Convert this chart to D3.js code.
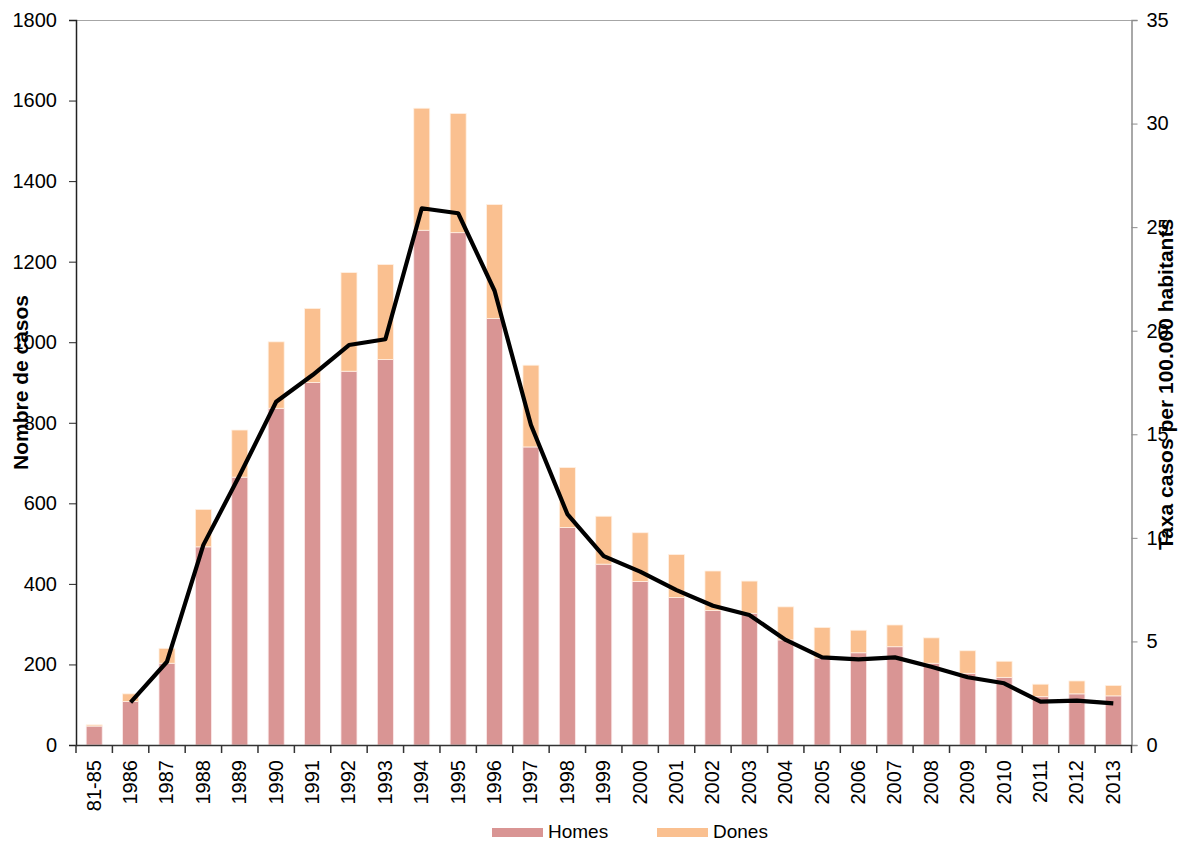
<!DOCTYPE html>
<html>
<head>
<meta charset="utf-8">
<script src="https://cdn.jsdelivr.net/npm/d3@7"></script>
<style>
  body { margin: 0; background: #fff; }
  text { font-family: "Liberation Sans", Arial, sans-serif; fill: #000; }
</style>
</head>
<body>
<div id="chart"></div>
<script>
// Data
const years = ["81-85", "1986", "1987", "1988", "1989", "1990", "1991", "1992", "1993", "1994",
               "1995", "1996", "1997", "1998", "1999", "2000", "2001", "2002", "2003", "2004",
               "2005", "2006", "2007", "2008", "2009", "2010", "2011", "2012", "2013"];
const homes = [47, 108, 203, 492, 665, 836, 900, 928, 957, 1278,
               1272, 1059, 740, 540, 449, 406, 366, 334, 327, 261,
               216, 229, 244, 203, 178, 168, 120, 127, 122];
const dones = [3, 19, 37, 93, 117, 165, 184, 245, 236, 303,
               296, 283, 203, 149, 119, 121, 107, 98, 80, 82,
               76, 56, 54, 63, 56, 40, 31, 32, 26];
const taxa = [null, 2.06, 4.02, 9.66, 13.03, 16.57, 17.86, 19.31, 19.59, 25.91,
              25.67, 21.93, 15.45, 11.15, 9.12, 8.37, 7.48, 6.72, 6.28, 5.07,
              4.23, 4.13, 4.23, 3.78, 3.27, 2.98, 2.09, 2.14, 2.01];
const leftTicks = [0, 200, 400, 600, 800, 1000, 1200, 1400, 1600, 1800];
const rightTicks = [0, 5, 10, 15, 20, 25, 30, 35];

const W = 1184, H = 843;
const margin = {top: 20, right: 52.5, bottom: 98, left: 76};
const width = W - margin.left - margin.right,
      height = H - margin.top - margin.bottom;

const svg = d3.select("#chart").append("svg")
    .attr("width", W)
    .attr("height", H);

const g = svg.append("g")
    .attr("transform", "translate(" + margin.left + "," + margin.top + ")");

const x = d3.scaleBand().domain(years).range([0, width]).paddingInner(0).paddingOuter(0);
const y = d3.scaleLinear().domain([0, 1800]).range([height, 0]);
const y2 = d3.scaleLinear().domain([0, 35]).range([height, 0]);

const barW = 16;

// top border of plot area
g.append("line")
    .attr("x1", 0).attr("x2", width)
    .attr("y1", 0.5).attr("y2", 0.5)
    .attr("stroke", "#a6a6a6");

// stacked bars
const rows = years.map((yr, i) => ({year: yr, homes: homes[i], dones: dones[i], taxa: taxa[i]}));

g.selectAll(".homes")
    .data(rows)
    .enter().append("rect")
        .attr("class", "homes")
        .attr("x", d => x(d.year) + (x.bandwidth() - barW) / 2)
        .attr("width", barW)
        .attr("y", d => y(d.homes))
        .attr("height", d => height - y(d.homes))
        .attr("fill", "#d99594")
        .attr("stroke", "#fbe9e9")
        .attr("stroke-width", 0.8);

g.selectAll(".dones")
    .data(rows)
    .enter().append("rect")
        .attr("class", "dones")
        .attr("x", d => x(d.year) + (x.bandwidth() - barW) / 2)
        .attr("width", barW)
        .attr("y", d => y(d.homes + d.dones))
        .attr("height", d => y(d.homes) - y(d.homes + d.dones))
        .attr("fill", "#fac090")
        .attr("stroke", "#fff1e4")
        .attr("stroke-width", 0.8);

// rate line on secondary axis
const line = d3.line()
    .defined(d => d.taxa != null)
    .x(d => x(d.year) + x.bandwidth() / 2)
    .y(d => y2(d.taxa));

g.append("path")
    .datum(rows)
    .attr("fill", "none")
    .attr("stroke", "#000")
    .attr("stroke-width", 4.2)
    .attr("stroke-linejoin", "round")
    .attr("d", line);

// left axis
const yAxis = g.append("g")
    .call(d3.axisLeft(y).tickValues(leftTicks).tickSize(7).tickPadding(12).tickFormat(d3.format("d")));
yAxis.select(".domain").attr("stroke", "#222").attr("stroke-width", 1.5);
yAxis.selectAll(".tick line").attr("stroke", "#222");
yAxis.selectAll("text").style("font-size", "20px");

// right axis
const yAxis2 = g.append("g")
    .attr("transform", "translate(" + width + ",0)")
    .call(d3.axisRight(y2).tickValues(rightTicks).tickSize(6).tickPadding(9));
yAxis2.select(".domain").attr("stroke", "#8c8c8c").attr("stroke-width", 1.5);
yAxis2.selectAll(".tick line").attr("stroke", "#8c8c8c");
yAxis2.selectAll("text").style("font-size", "20px");

// bottom axis: ticks between categories
const xAxis = g.append("g")
    .attr("transform", "translate(0," + height + ")")
    .call(d3.axisBottom(x).tickSize(0).tickPadding(0));
xAxis.select(".domain").attr("stroke", "#333").attr("stroke-width", 1.5);
xAxis.selectAll(".tick text")
    .style("font-size", "20px")
    .attr("text-anchor", "end")
    .attr("transform", "rotate(-90)")
    .attr("x", -15)
    .attr("y", 0)
    .attr("dy", "0.32em");

g.append("g")
    .selectAll("line")
    .data(d3.range(years.length + 1))
    .enter().append("line")
        .attr("x1", i => i * x.step())
        .attr("x2", i => i * x.step())
        .attr("y1", height)
        .attr("y2", height + 8)
        .attr("stroke", "#333")
        .attr("stroke-width", 1.5);

// axis titles
g.append("text")
    .attr("transform", "translate(" + (-48) + "," + (height / 2) + ") rotate(-90)")
    .attr("text-anchor", "middle")
    .style("font-size", "21px")
    .style("font-weight", "bold")
    .text("Nombre de casos");

g.append("text")
    .attr("transform", "translate(" + (width + 41) + "," + (height / 2 + 2) + ") rotate(-90)")
    .attr("text-anchor", "middle")
    .style("font-size", "21px")
    .style("font-weight", "bold")
    .text("Taxa casos per 100.000 habitants");

// legend
const legendItems = [
    {label: "Homes", color: "#d99594", x: 492},
    {label: "Dones", color: "#fac090", x: 657}
];
const legend = svg.append("g").selectAll("g")
    .data(legendItems)
    .enter().append("g")
        .attr("transform", d => "translate(" + d.x + ",828)");

legend.append("rect")
    .attr("width", 51)
    .attr("height", 9)
    .attr("fill", d => d.color);

legend.append("text")
    .attr("x", 56)
    .attr("y", 10)
    .style("font-size", "19px")
    .text(d => d.label);
</script>
</body>
</html>
